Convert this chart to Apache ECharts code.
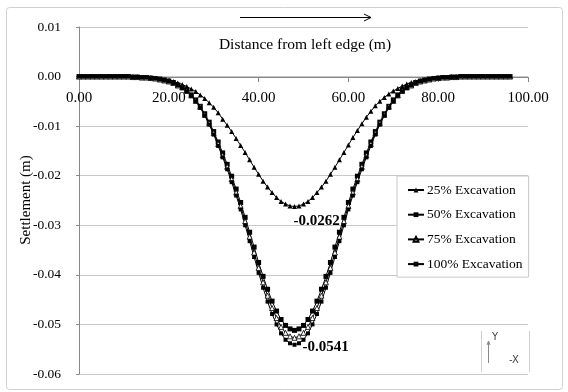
<!DOCTYPE html>
<html>
<head>
<meta charset="utf-8">
<script src="https://cdn.jsdelivr.net/npm/echarts@6/dist/echarts.min.js"></script>
<style>
  html, body { margin: 0; padding: 0; background: #fff; }
  #main { width: 568px; height: 392px; }
</style>
</head>
<body>
<div id="main"></div>
<script>
// distance from left edge (m)
var distance = [
  0, 1, 2, 3, 4, 5, 6, 7, 8, 9, 10, 11,
  12, 13, 14, 15, 16, 17, 18, 19, 20, 21, 22, 23,
  24, 25, 26, 27, 28, 29, 30, 31, 32, 33, 34, 35,
  36, 37, 38, 39, 40, 41, 42, 43, 44, 45, 46, 47,
  48,
  49, 50, 51, 52, 53, 54, 55, 56, 57, 58, 59, 60,
  61, 62, 63, 64, 65, 66, 67, 68, 69, 70, 71, 72,
  73, 74, 75, 76, 77, 78, 79, 80, 81, 82, 83, 84,
  85, 86, 87, 88, 89, 90, 91, 92, 93, 94, 95, 96
]

var exc25 = [
  0, 0, 0, 0, 0, 0, 0, 0, 0, 0, 0, 0,
  -0.0001, -0.0001, -0.0002, -0.0002, -0.0003, -0.0004, -0.0005, -0.0006, -0.0008, -0.0010, -0.0013, -0.0016,
  -0.0020, -0.0025, -0.0030, -0.0037, -0.0044, -0.0053, -0.0062, -0.0073, -0.0086, -0.0098, -0.0111, -0.0125,
  -0.0139, -0.0153, -0.0168, -0.0183, -0.0197, -0.0211, -0.0223, -0.0234, -0.0244, -0.0252, -0.0257, -0.0261,
  -0.0262,
  -0.0261, -0.0257, -0.0252, -0.0244, -0.0234, -0.0223, -0.0211, -0.0197, -0.0183, -0.0168, -0.0153, -0.0138,
  -0.0123, -0.0109, -0.0095, -0.0082, -0.0070, -0.0059, -0.0050, -0.0042, -0.0035, -0.0029, -0.0024, -0.0019,
  -0.0015, -0.0012, -0.0010, -0.0008, -0.0006, -0.0005, -0.0004, -0.0003, -0.0002, -0.0002, -0.0001, -0.0001,
  0, 0, 0, 0, 0, 0, 0, 0, 0, 0, 0, 0
]

var exc50 = [
  0, 0, 0, 0, 0, 0, 0, 0, 0, 0, 0, 0,
  -0.0001, -0.0001, -0.0002, -0.0002, -0.0003, -0.0004, -0.0005, -0.0007, -0.0009, -0.0012, -0.0017, -0.0022,
  -0.0028, -0.0037, -0.0047, -0.0060, -0.0075, -0.0092, -0.0111, -0.0132, -0.0154, -0.0177, -0.0201, -0.0227,
  -0.0254, -0.0284, -0.0314, -0.0344, -0.0375, -0.0403, -0.0429, -0.0453, -0.0473, -0.0490, -0.0502, -0.0509,
  -0.0512,
  -0.0509, -0.0502, -0.0490, -0.0473, -0.0453, -0.0429, -0.0403, -0.0375, -0.0344, -0.0314, -0.0284, -0.0254,
  -0.0227, -0.0201, -0.0177, -0.0154, -0.0132, -0.0111, -0.0092, -0.0075, -0.0060, -0.0047, -0.0037, -0.0028,
  -0.0022, -0.0017, -0.0012, -0.0009, -0.0007, -0.0005, -0.0004, -0.0003, -0.0002, -0.0002, -0.0001, -0.0001,
  0, 0, 0, 0, 0, 0, 0, 0, 0, 0, 0, 0
]

var exc75 = [
  0, 0, 0, 0, 0, 0, 0, 0, 0, 0, 0, 0,
  -0.0001, -0.0001, -0.0002, -0.0002, -0.0003, -0.0004, -0.0006, -0.0008, -0.0010, -0.0013, -0.0018, -0.0022,
  -0.0029, -0.0038, -0.0049, -0.0061, -0.0077, -0.0094, -0.0114, -0.0136, -0.0159, -0.0182, -0.0207, -0.0234,
  -0.0261, -0.0292, -0.0323, -0.0355, -0.0386, -0.0415, -0.0442, -0.0467, -0.0487, -0.0505, -0.0517, -0.0524,
  -0.0527,
  -0.0524, -0.0517, -0.0505, -0.0487, -0.0467, -0.0442, -0.0415, -0.0386, -0.0355, -0.0323, -0.0292, -0.0261,
  -0.0234, -0.0207, -0.0182, -0.0159, -0.0136, -0.0114, -0.0094, -0.0077, -0.0061, -0.0049, -0.0038, -0.0029,
  -0.0022, -0.0018, -0.0013, -0.0010, -0.0008, -0.0006, -0.0004, -0.0003, -0.0002, -0.0002, -0.0001, -0.0001,
  0, 0, 0, 0, 0, 0, 0, 0, 0, 0, 0, 0
]

var exc100 = [
  0, 0, 0, 0, 0, 0, 0, 0, 0, 0, 0, 0,
  -0.0001, -0.0001, -0.0002, -0.0002, -0.0003, -0.0004, -0.0006, -0.0008, -0.0010, -0.0013, -0.0018, -0.0023,
  -0.0030, -0.0039, -0.0050, -0.0063, -0.0079, -0.0097, -0.0117, -0.0140, -0.0163, -0.0187, -0.0213, -0.0240,
  -0.0268, -0.0300, -0.0332, -0.0364, -0.0396, -0.0426, -0.0454, -0.0479, -0.0500, -0.0518, -0.0531, -0.0538,
  -0.0541,
  -0.0538, -0.0531, -0.0518, -0.0500, -0.0479, -0.0454, -0.0426, -0.0396, -0.0364, -0.0332, -0.0300, -0.0268,
  -0.0240, -0.0213, -0.0187, -0.0163, -0.0140, -0.0117, -0.0097, -0.0079, -0.0063, -0.0050, -0.0039, -0.0030,
  -0.0023, -0.0018, -0.0013, -0.0010, -0.0008, -0.0006, -0.0004, -0.0003, -0.0002, -0.0002, -0.0001, -0.0001,
  0, 0, 0, 0, 0, 0, 0, 0, 0, 0, 0, 0
]

var seriesNames = ['25% Excavation', '50% Excavation', '75% Excavation', '100% Excavation']
var peak25 = [48, -0.0262]
var peak100 = [48, -0.0541]

var serif = 'Liberation Serif'

function pairs(arr) {
  return distance.map(function (d, i) { return [d, arr[i]] })
}

// bold value label next to the deepest point of a curve
function peakLabel(peak, dx, dy) {
  return {
    symbol: 'circle',
    symbolSize: 1,
    itemStyle: { color: 'rgba(0,0,0,0)' },
    label: {
      show: true,
      position: 'inside',
      offset: [dx, dy],
      fontFamily: serif,
      fontWeight: 'bold',
      fontSize: 15,
      color: '#000',
      formatter: String(peak[1])
    },
    data: [{ coord: peak }]
  }
}

var myChart = echarts.init(document.getElementById('main'))

myChart.setOption({
  animation: false,
  backgroundColor: '#fff',
  textStyle: { fontFamily: serif, color: '#000' },
  grid: { left: 79, right: 40, top: 27, bottom: 18 },
  legend: {
    orient: 'vertical',
    left: 397,
    top: 176,
    padding: [7, 6, 6, 10],
    itemGap: 10.7,
    itemWidth: 16,
    itemHeight: 6,
    backgroundColor: '#fff',
    borderColor: '#c8c8c8',
    borderWidth: 1,
    textStyle: { fontFamily: serif, fontSize: 13.5, color: '#000', padding: [0, 0, 0, -2] },
    data: seriesNames
  },
  graphic: [
    // outer frame
    { type: 'rect', shape: { x: 6.5, y: 7.5, width: 556, height: 382, r: 3 },
      style: { fill: null, stroke: '#d0d0d0', lineWidth: 1 }, z: -1 },
    // direction arrow
    { type: 'polyline', shape: { points: [[240, 17.5], [370, 17.5]] },
      style: { stroke: '#000', lineWidth: 1.2 } },
    { type: 'polyline', shape: { points: [[364, 14], [371, 17.5], [364, 21]] },
      style: { stroke: '#000', lineWidth: 1, fill: null } },
    { type: 'text', x: 305, y: 45,
      style: { text: 'Distance from left edge (m)', font: '15.5px "Liberation Serif"', fill: '#000',
        textAlign: 'center', textVerticalAlign: 'middle' } },
    // y axis title
    { type: 'text', x: 26, y: 200, rotation: Math.PI / 2,
      style: { text: 'Settlement (m)', font: '15px "Liberation Serif"', fill: '#000',
        textAlign: 'center', textVerticalAlign: 'middle' } },
    // small axis indicator box
    { type: 'polyline', shape: { points: [[481.5, 331], [481.5, 372]] },
      style: { stroke: '#d0d0d0', lineWidth: 1 } },
    { type: 'polyline', shape: { points: [[529.5, 331], [529.5, 372]] },
      style: { stroke: '#d0d0d0', lineWidth: 1 } },
    { type: 'polyline', shape: { points: [[488.5, 363], [488.5, 342]] },
      style: { stroke: '#888', lineWidth: 1 } },
    { type: 'polyline', shape: { points: [[487, 345], [488.5, 341], [490, 345]] },
      style: { stroke: '#888', lineWidth: 1, fill: null } },
    { type: 'text', left: 492, top: 332,
      style: { text: 'Y', font: '10px "DejaVu Sans"', fill: '#444' } },
    { type: 'text', left: 509, top: 355,
      style: { text: '-X', font: '10px "DejaVu Sans"', fill: '#444' } }
  ],
  xAxis: {
    type: 'value',
    min: 0,
    max: 100,
    interval: 20,
    position: 'bottom',
    offset: -297,
    axisLine: { onZero: false, lineStyle: { color: '#888', width: 1 } },
    axisTick: { show: true, length: 5, inside: false, lineStyle: { color: '#888' } },
    axisLabel: {
      margin: 14,
      fontFamily: serif,
      fontSize: 15,
      color: '#000',
      formatter: function (v) { return v.toFixed(2) }
    },
    splitLine: { show: false }
  },
  yAxis: {
    type: 'value',
    min: -0.06,
    max: 0.01,
    interval: 0.01,
    axisLine: { show: true, lineStyle: { color: '#888', width: 1 } },
    axisTick: { show: true, length: 3, lineStyle: { color: '#888' } },
    axisLabel: {
      margin: 18,
      fontFamily: serif,
      fontSize: 13.5,
      color: '#000',
      formatter: function (v) { return v.toFixed(2) }
    },
    splitLine: { show: true, lineStyle: { color: '#c8c8c8', width: 1 } }
  },
  series: [
    {
      name: seriesNames[0],
      type: 'line',
      data: pairs(exc25),
      symbol: 'triangle',
      symbolSize: 5,
      showAllSymbol: true,
      lineStyle: { color: '#000', width: 1 },
      itemStyle: { color: '#000' },
      markPoint: peakLabel(peak25, 22, 15)
    },
    {
      name: seriesNames[1],
      type: 'line',
      data: pairs(exc50),
      symbol: 'rect',
      symbolSize: 5,
      showAllSymbol: true,
      lineStyle: { color: '#000', width: 1 },
      itemStyle: { color: '#000' }
    },
    {
      name: seriesNames[2],
      type: 'line',
      data: pairs(exc75),
      symbol: 'triangle',
      symbolSize: 5,
      showAllSymbol: true,
      lineStyle: { color: '#000', width: 1 },
      itemStyle: { color: '#fff', borderColor: '#000', borderWidth: 0.8 }
    },
    {
      name: seriesNames[3],
      type: 'line',
      data: pairs(exc100),
      symbol: 'rect',
      symbolSize: 4,
      showAllSymbol: true,
      lineStyle: { color: '#000', width: 1 },
      itemStyle: { color: '#000' },
      markPoint: peakLabel(peak100, 31, 2)
    }
  ]
})
</script>
</body>
</html>
